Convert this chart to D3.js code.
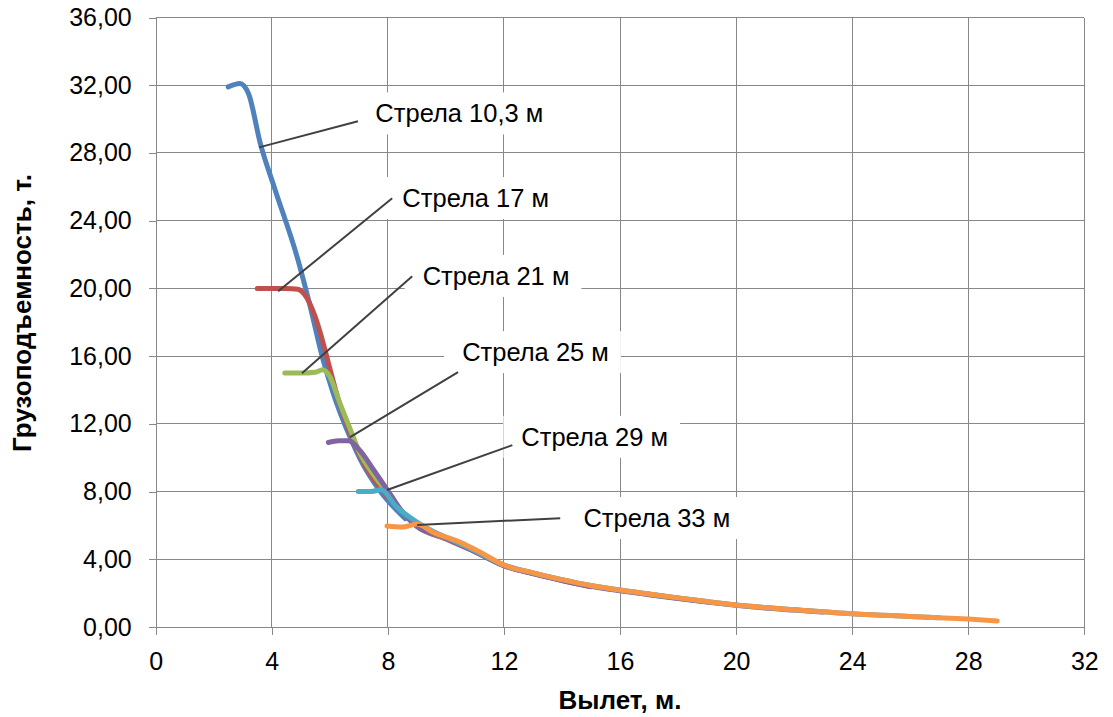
<!DOCTYPE html>
<html>
<head>
<meta charset="utf-8">
<script src="https://cdn.jsdelivr.net/npm/d3@7"></script>
<style>
  html, body { margin: 0; padding: 0; background: #ffffff; }
  svg { display: block; font-family: "Liberation Sans", Arial, sans-serif; }
</style>
</head>
<body>
<svg id="chart" width="1113" height="717"></svg>
<script>
// ---------- data ----------
const seriesNames = ["Стрела 10,3 м", "Стрела 17 м", "Стрела 21 м", "Стрела 25 м", "Стрела 29 м", "Стрела 33 м"];
const seriesColors = ["#4F81BD", "#C0504D", "#9BBB59", "#8064A2", "#4BACC6", "#F79646"];

const radius103 = [2.5, 2.9, 3.2, 3.6, 4.1, 4.9, 5.3, 5.75, 6.1, 6.7, 7.05, 7.7, 8.6];
const load103   = [31.9, 32.1, 31.5, 28.6, 25.9, 21.7, 19.1, 15.9, 13.9, 11.2, 9.9, 8.1, 6.4];

const radius17 = [3.5, 4.5, 4.9, 5.1, 5.5, 5.75, 5.95, 6.3, 6.7, 7.2, 7.8, 8.5, 9, 10, 11, 12, 13, 14, 15];
const load17   = [20, 20, 19.95, 19.7, 18.3, 16.9, 15.6, 13.4, 11.5, 9.6, 8.1, 6.8, 5.95, 5.2, 4.45, 3.62, 3.15, 2.75, 2.38];

const radius21 = [4.45, 5.0, 5.5, 5.75, 6.0, 6.35, 6.7, 7.0, 7.5, 8, 8.5, 9, 10, 11, 12, 13, 14, 15, 16, 17, 18, 19];
const load21   = [15, 15, 15.05, 15.2, 14.8, 13.2, 11.7, 10.4, 9.0, 7.9, 6.8, 5.95, 5.25, 4.5, 3.64, 3.18, 2.78, 2.42, 2.16, 1.93, 1.7, 1.48];

const radius25 = [5.95, 6.3, 6.65, 7.05, 7.5, 7.9, 8.1, 8.5, 9, 10, 11, 12, 13, 14, 15, 16, 17, 18, 19, 20, 21, 22, 23];
const load25   = [10.9, 11.0, 11.0, 10.4, 9.3, 8.3, 7.8, 6.8, 5.95, 5.25, 4.45, 3.62, 3.15, 2.75, 2.4, 2.14, 1.91, 1.68, 1.47, 1.28, 1.12, 1.0, 0.88];

const radius29 = [6.98, 7.4, 7.75, 8.3, 9.0, 9.5, 10, 11, 12, 13, 14, 15, 16, 17, 18, 19, 20, 21, 22, 23, 24, 25, 26, 27];
const load29   = [8.0, 8.0, 8.1, 7.1, 6.2, 5.7, 5.3, 4.5, 3.66, 3.2, 2.8, 2.45, 2.18, 1.95, 1.72, 1.5, 1.3, 1.15, 1.02, 0.9, 0.78, 0.7, 0.62, 0.55];

const radius33 = [7.97, 8.5, 9.0, 9.55, 10.5, 11.2, 12, 13, 14, 15, 16, 17, 18, 19, 20, 21, 22, 23, 24, 25, 26, 27, 28, 29];
const load33   = [5.96, 5.9, 6.08, 5.6, 5.0, 4.4, 3.66, 3.2, 2.8, 2.45, 2.18, 1.95, 1.72, 1.5, 1.3, 1.15, 1.02, 0.9, 0.78, 0.7, 0.62, 0.55, 0.47, 0.36];

const xTicks = [0, 4, 8, 12, 16, 20, 24, 28, 32];
const yTicks = [0, 4, 8, 12, 16, 20, 24, 28, 32, 36];

// callouts (data coordinates): anchor on curve, end of leader, label left / centre
const calloutPointX = [3.56, 4.22, 5.04, 6.7, 7.97, 9.01];
const calloutPointY = [28.33, 19.83, 14.99, 11.22, 8.09, 6.02];
const calloutEndX   = [6.97, 8.15, 8.84, 10.42, 12.29, 13.94];
const calloutEndY   = [29.87, 25.32, 20.72, 15.05, 10.74, 6.43];
const calloutTextX  = [7.57, 8.5, 9.2, 10.56, 12.6, 14.74];
const calloutTextY  = [30.2, 25.2, 20.6, 16.1, 11.1, 6.3];

const xTitle = "Вылет, м.";
const yTitle = "Грузоподъемность, т.";

// ---------- chart ----------
const svg = d3.select("#chart");
const plotLeft = 155.7, plotRight = 1084.3, plotTop = 17.5, plotBottom = 627;
const x = d3.scaleLinear().domain([0, 32]).range([plotLeft, plotRight]);
const y = d3.scaleLinear().domain([0, 36]).range([plotBottom, plotTop]);
const gridColor = "#888888";
const fontFam = "'Liberation Sans', Arial, sans-serif";

// gridlines
svg.append("g").selectAll("line").data(yTicks.filter(d => d > 0)).join("line")
  .attr("x1", plotLeft).attr("x2", plotRight)
  .attr("y1", d => y(d)).attr("y2", d => y(d))
  .attr("stroke", gridColor).attr("stroke-width", 1).attr("shape-rendering", "crispEdges");
svg.append("g").selectAll("line").data(xTicks.filter(d => d > 0)).join("line")
  .attr("x1", d => x(d)).attr("x2", d => x(d))
  .attr("y1", plotTop).attr("y2", plotBottom)
  .attr("stroke", gridColor).attr("stroke-width", 1).attr("shape-rendering", "crispEdges");

// axes
const xAxis = svg.append("g").attr("transform", `translate(0,${plotBottom})`)
  .call(d3.axisBottom(x).tickValues(xTicks).tickSize(8).tickPadding(17).tickFormat(d3.format("d")));
const yAxis = svg.append("g").attr("transform", `translate(${plotLeft},0)`)
  .call(d3.axisLeft(y).tickValues(yTicks).tickSize(7).tickPadding(17)
    .tickFormat(d => d3.format(".2f")(d).replace(".", ",")));
[xAxis, yAxis].forEach(a => {
  a.select(".domain").attr("stroke", gridColor).attr("shape-rendering", "crispEdges");
  a.selectAll(".tick line").attr("stroke", gridColor).attr("shape-rendering", "crispEdges");
  a.selectAll("text").attr("fill", "#000").style("font-size", "25px")
    .style("font-family", fontFam);
});

// series
const radii = [radius103, radius17, radius21, radius25, radius29, radius33];
const loads = [load103, load17, load21, load25, load29, load33];
const line = d3.line().x(d => x(d[0])).y(d => y(d[1])).curve(d3.curveMonotoneX);
radii.forEach((r, i) => {
  const pts = r.map((v, j) => [v, loads[i][j]]);
  svg.append("path").datum(pts)
    .attr("d", line)
    .attr("fill", "none")
    .attr("stroke", seriesColors[i])
    .attr("stroke-width", 5)
    .attr("stroke-linecap", "round")
    .attr("stroke-linejoin", "round");
});

// callouts
const cg = svg.append("g");
seriesNames.forEach((name, i) => {
  const t = cg.append("text")
    .attr("x", x(calloutTextX[i])).attr("y", y(calloutTextY[i]))
    .attr("dominant-baseline", "middle")
    .style("font-size", "25.5px").style("font-family", fontFam).attr("fill", "#000")
    .text(name);
  const bb = t.node().getBBox();
  cg.insert("rect", "text")
    .attr("x", bb.x - 18).attr("y", bb.y - 7)
    .attr("width", bb.width + 30).attr("height", bb.height + 14)
    .attr("fill", "#fff");
  cg.append("line")
    .attr("x1", x(calloutPointX[i])).attr("y1", y(calloutPointY[i]))
    .attr("x2", x(calloutEndX[i])).attr("y2", y(calloutEndY[i]))
    .attr("stroke", "#404040").attr("stroke-width", 2);
});

// titles
svg.append("text")
  .attr("x", (plotLeft + plotRight) / 2).attr("y", 709)
  .attr("text-anchor", "middle")
  .style("font-size", "26px").style("font-weight", "bold").style("font-family", fontFam)
  .text(xTitle);
svg.append("text")
  .attr("transform", `translate(31,${313}) rotate(-90)`)
  .attr("text-anchor", "middle")
  .style("font-size", "26px").style("font-weight", "bold").style("font-family", fontFam)
  .text(yTitle);
</script>
</body>
</html>
